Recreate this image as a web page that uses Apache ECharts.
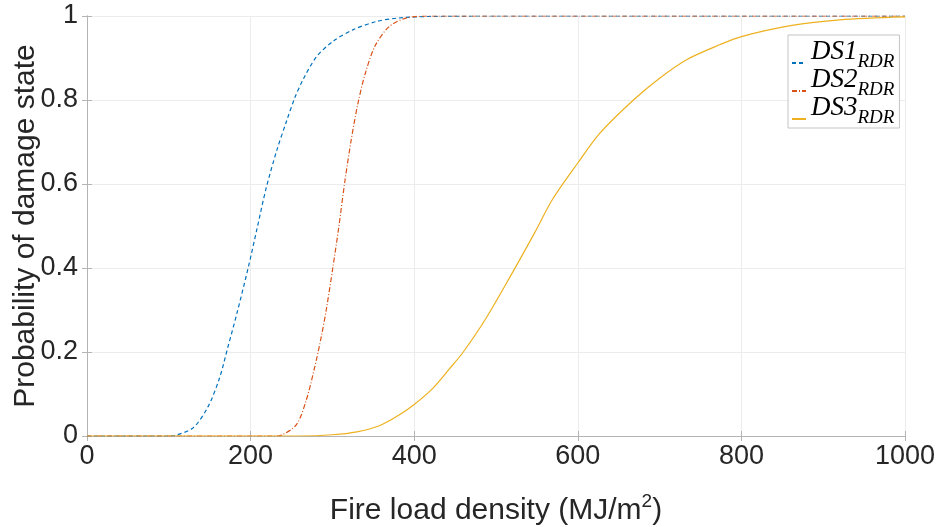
<!DOCTYPE html>
<html>
<head>
<meta charset="utf-8">
<script src="https://cdn.jsdelivr.net/npm/echarts@6/dist/echarts.min.js"></script>
<style>
  html, body { margin: 0; padding: 0; background: #fff; }
  #chart { width: 940px; height: 527px; }
</style>
</head>
<body>
<div id="chart"></div>
<script>
// values (fire load density, probability)
const ds1X = [0, 100, 109, 130, 148, 162, 172, 183, 197, 208, 219, 232, 244, 254, 265, 281, 301, 325, 354, 380, 420, 500, 1000];
const ds1Y = [0, 0, 0.002, 0.02, 0.07, 0.138, 0.21, 0.29, 0.4, 0.495, 0.59, 0.68, 0.75, 0.805, 0.852, 0.904, 0.94, 0.967, 0.987, 0.995, 0.999, 1, 1];

const ds2X = [0, 230, 238, 256, 268, 278.5, 286.6, 292.7, 300.5, 308, 315, 323, 331, 340, 352, 369, 390, 420, 1000];
const ds2Y = [0, 0, 0.002, 0.027, 0.085, 0.165, 0.238, 0.303, 0.4, 0.5, 0.603, 0.705, 0.79, 0.862, 0.928, 0.974, 0.995, 1, 1];

const ds3X = [0, 260, 300, 330, 358, 380, 400, 423, 444, 460, 488, 521, 547, 569, 600, 627, 668, 700, 733, 774, 800, 860, 920, 1000];
const ds3Y = [0, 0, 0.003, 0.01, 0.025, 0.048, 0.075, 0.114, 0.162, 0.2, 0.281, 0.392, 0.483, 0.563, 0.65, 0.721, 0.8, 0.852, 0.896, 0.932, 0.951, 0.977, 0.991, 0.998];

const names = ['DS1', 'DS2', 'DS3'];

function pairs(xs, ys) {
  return xs.map((x, i) => [x, ys[i]]);
}

var myChart = echarts.init(document.getElementById('chart'));

const axisGray = '#b4b4b4';
const sans = 'Liberation Sans, Arial, sans-serif';
const serif = 'Liberation Serif, serif';
const labelStyle = { color: '#262626', fontSize: 27, fontFamily: sans };

myChart.setOption({
  backgroundColor: '#fff',
  animation: false,
  grid: { left: 87, right: 35, top: 16, bottom: 91, outerBoundsMode: 'none' },
  legend: {
    orient: 'vertical',
    left: 788,
    top: 35,
    padding: [3, 5, 1, 3],
    itemWidth: 14,
    itemHeight: 10,
    itemGap: -5,
    icon: 'inherit',
    itemStyle: { opacity: 0 },
    backgroundColor: '#fff',
    borderColor: '#c4c4c4',
    borderWidth: 1,
    data: names,
    formatter: n => '{a|' + n + '}{b|RDR}',
    textStyle: {
      rich: {
        a: { fontFamily: serif, fontStyle: 'italic', fontSize: 27, color: '#000', lineHeight: 16, verticalAlign: 'bottom', padding: [0, 0, 6, 0] },
        b: { fontFamily: serif, fontStyle: 'italic', fontSize: 19, color: '#000', lineHeight: 16, verticalAlign: 'bottom' }
      }
    }
  },
  xAxis: [
    {
      type: 'value', min: 0, max: 1000, interval: 200,
      name: 'Fire load density (MJ/m{sup|2})',
      nameLocation: 'middle', nameGap: 56, nameMoveOverlap: false,
      nameTextStyle: {
        color: '#262626', fontSize: 30, fontFamily: sans,
        rich: { sup: { fontSize: 19, color: '#262626', fontFamily: sans, verticalAlign: 'top', padding: [0, 0, 18, 0] } }
      },
      axisLine: { lineStyle: { color: axisGray } },
      axisTick: { inside: true, length: 5, lineStyle: { color: axisGray } },
      axisLabel: Object.assign({ margin: 7, formatter: v => String(v) }, labelStyle),
      splitLine: { show: true, lineStyle: { color: '#ececec' } }
    },
    {
      type: 'value', min: 0, max: 1000, interval: 200, position: 'top',
      axisLine: { show: true, lineStyle: { color: axisGray } },
      axisTick: { show: true, inside: true, length: 5, lineStyle: { color: axisGray } },
      axisLabel: { show: false },
      splitLine: { show: false }
    }
  ],
  yAxis: [
    {
      type: 'value', min: 0, max: 1, interval: 0.2,
      name: 'Probability of damage state',
      nameLocation: 'middle', nameGap: 46, nameMoveOverlap: false,
      nameTextStyle: { color: '#262626', fontSize: 30, fontFamily: sans },
      axisLine: { show: true, lineStyle: { color: axisGray } },
      axisTick: { show: true, inside: true, length: 5, lineStyle: { color: axisGray } },
      axisLabel: Object.assign({ margin: 9 }, labelStyle),
      splitLine: { show: true, lineStyle: { color: '#ececec' } }
    },
    {
      type: 'value', min: 0, max: 1, interval: 0.2, position: 'right',
      axisLine: { show: true, lineStyle: { color: axisGray } },
      axisTick: { show: true, inside: true, length: 5, lineStyle: { color: axisGray } },
      axisLabel: { show: false },
      splitLine: { show: false }
    }
  ],
  series: [
    {
      name: 'DS1', type: 'line', symbol: 'none', smooth: 0.3,
      lineStyle: { color: '#0072BD', width: 1.2, type: [4, 3] },
      itemStyle: { color: '#0072BD' },
      data: pairs(ds1X, ds1Y), z: 3
    },
    {
      name: 'DS2', type: 'line', symbol: 'none', smooth: 0.3,
      lineStyle: { color: '#D95319', width: 1.2, type: [5, 2, 1, 2] },
      itemStyle: { color: '#D95319' },
      data: pairs(ds2X, ds2Y), z: 4
    },
    {
      name: 'DS3', type: 'line', symbol: 'none', smooth: 0.3,
      lineStyle: { color: '#EDB120', width: 1.2 },
      itemStyle: { color: '#EDB120' },
      data: pairs(ds3X, ds3Y), z: 5
    }
  ]
});
</script>
</body>
</html>
